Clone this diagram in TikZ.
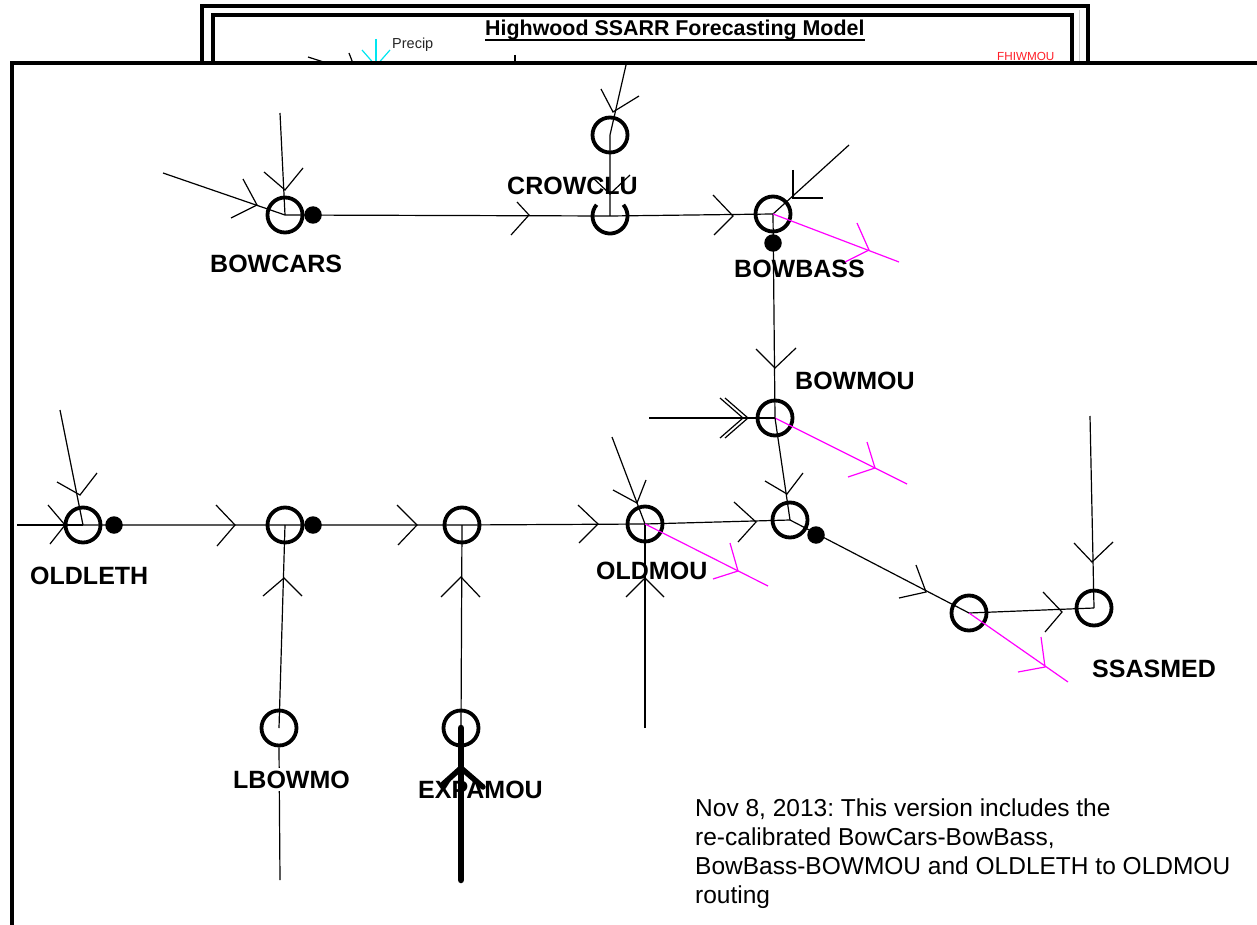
\documentclass[tikz,border=0pt]{standalone}
\usepackage{fontspec}
\setmainfont{Liberation Sans}
\frenchspacing
\definecolor{mag}{RGB}{255,0,255}
\definecolor{cyn}{RGB}{0,230,240}
\definecolor{redt}{RGB}{255,30,40}
\newcommand{\varrow}[4][arm]{\draw[#1] #3 -- #2 -- #4;}
\begin{document}
\begin{tikzpicture}[x=1pt,y=-1pt,
  nd/.style={circle,draw,line width=3.8pt,minimum size=35pt,inner sep=0pt},
  blob/.style={circle,fill=black,minimum size=17.5pt,inner sep=0pt},
  lbl/.style={anchor=base west,inner sep=0pt,font=\bfseries\fontsize{25}{30}\selectfont},
  note/.style={anchor=base west,inner sep=0pt,font=\fontsize{24.5}{29}\selectfont},
  ln/.style={line width=1.2pt},
  arm/.style={line width=1.2pt},
  marm/.style={line width=1.2pt,mag},
  mln/.style={line width=1.2pt,mag},
  frame/.style={line width=3.8pt}]
\useasboundingbox (0,0) rectangle (1257,925);
\fill[white] (0,0) rectangle (1257,925);
% ---- back window ----
\draw[frame] (202,70) -- (202,6) -- (1088,6) -- (1088,70);
\draw[frame] (213,70) -- (213,15) -- (1072,15) -- (1072,70);
\draw[gray!40,line width=0.8pt] (1079,10) -- (1079,70);
\node[anchor=base west,inner sep=0pt,font=\bfseries\fontsize{21.4}{25}\selectfont] (title) at (485,36) {Highwood SSARR Forecasting Model};
\draw[line width=1.6pt] (title.south west) ++(0,-1) coordinate (ul1) (title.south east) ++(0,-1) coordinate (ul2);
\draw[line width=1.6pt] (ul1) -- (ul2);
\node[anchor=base west,inner sep=0pt,font=\fontsize{14.5}{17}\selectfont,text=black!85] (precip) at (392,49) {Precip};
\node[anchor=base west,inner sep=0pt,font=\fontsize{11.7}{14}\selectfont,text=redt] (fhiw) at (997,61) {FHIWMOU};
\draw[cyn,line width=1.2pt] (376,39) -- (376,66);
\draw[cyn,line width=1.2pt] (362,50) -- (376,66) -- (390,50);
\draw[ln] (308,57) -- (336,66);
\draw[ln] (349,53) -- (354,66);
\draw[ln] (515,55) -- (515,66);
% ---- front window ----
\fill[white] (12,63) rectangle (1262,930);
\draw[line width=4pt] (12,930) -- (12,63) -- (1262,63);
% ---- labels (under the lines) ----
\node[lbl] (lbowcars) at (210,272) {BOWCARS};
\node[lbl] (lcrowclu) at (507,195) {CROWCLU};
\node[lbl] (lbowbass) at (734,277) {BOWBASS};
\node[lbl] (lbowmou) at (795,389) {BOWMOU};
\node[lbl] (loldleth) at (30,584) {OLDLETH};
\node[lbl] (loldmou) at (596,579) {OLDMOU};
\node[lbl] (lssasmed) at (1092,677) {SSASMED};
\node[lbl] (lexpamou) at (418,798) {EXPAMOU};
% ---- nodes ----
\node[nd] (bowcars) at (285,215) {};
\node[blob] (d1) at (313,215) {};
\node[nd] (crowU) at (610,135) {};
\coordinate (crowL) at (610,216);
\draw[line width=3.8pt] (crowL) ++(-40:17.5) arc[start angle=-40,end angle=220,radius=17.5];
\node[nd] (bowbass) at (773,214) {};
\node[blob] (d2) at (773,243) {};
\node[nd] (bowmou) at (775,418) {};
\node[nd] (junc) at (790,520) {};
\node[blob] (d3) at (816,535) {};
\node[nd] (ssa1) at (969,613) {};
\node[nd] (ssasmed) at (1094,608) {};
\node[nd] (oldleth) at (83,525) {};
\node[blob] (d4) at (114,525) {};
\node[nd] (n2) at (285,525) {};
\node[blob] (d5) at (313,525) {};
\node[nd] (n3) at (462,525) {};
\node[nd] (oldmou) at (645,524) {};
\node[nd] (lbowmo) at (279,728) {};
\node[nd] (expamou) at (461,728) {};
% ---- free ends ----
\coordinate (bcT) at (280,113);
\coordinate (bcL) at (163,173);
\coordinate (crT) at (626,65);
\coordinate (bbNE) at (849,145);
\coordinate (bbM) at (899,262);
\coordinate (bmL) at (649,418);
\coordinate (bmM) at (907,484);
\coordinate (olL) at (17,525);
\coordinate (olT) at (60,410);
\coordinate (omT) at (612,437);
\coordinate (omB) at (645,728);
\coordinate (omM) at (768,586);
\coordinate (ssT) at (1090,416);
\coordinate (s1M) at (1068,682);
\coordinate (lbB) at (280,880);
\coordinate (exB) at (461,880);
% ---- connectors ----
\draw[ln] (bcT) -- (bowcars.center);
\draw[ln] (bcL) -- (bowcars.center);
\draw[ln] (bowcars.center) -- (crowL) -- (bowbass.center);
\draw[ln] (crT) -- (crowU.center) -- (crowL);
\draw[ln] (bbNE) -- (bowbass.center);
\draw[ln] (bowbass.center) -- (bowmou.center);
\draw[mln] (bowbass.center) -- (bbM);
\draw[ln] (bmL) -- (bowmou.center);
\draw[mln] (bowmou.center) -- (bmM);
\draw[ln] (bowmou.center) -- (junc.center);
\draw[ln] (olL) -- (oldleth.center);
\draw[ln] (olT) -- (oldleth.center);
\draw[ln] (oldleth.center) -- (n2.center) -- (n3.center) -- (oldmou.center) -- (junc.center);
\draw[ln] (lbowmo.center) -- (n2.center);
\draw[ln] (expamou.center) -- (n3.center);
\draw[ln] (omB) -- (oldmou.center);
\draw[ln] (omT) -- (oldmou.center);
\draw[mln] (oldmou.center) -- (omM);
\draw[ln] (junc.center) -- (ssa1.center) -- (ssasmed.center);
\draw[ln] (ssT) -- (ssasmed.center);
\draw[mln] (ssa1.center) -- (s1M);
\draw[ln] (lbowmo.south) -- (lbB);
% ---- arrow marks ----
\varrow{(285,190)}{(264,172)}{(303,168)}
\varrow{(257,205)}{(243,179)}{(231,218)}
\varrow{(529,215)}{(517,202)}{(511,235)}
\varrow{(613,112)}{(601,89)}{(639,96)}
\varrow{(610,194)}{(593,178)}{(630,175)}
\varrow{(733,216)}{(713,195)}{(714,235)}
\varrow{(793,198)}{(793,170)}{(823,198)}
\varrow[marm]{(869,250)}{(857,223)}{(845,262)}
\varrow{(775,368)}{(756,349)}{(796,348)}
\varrow{(748,418)}{(725,398)}{(725,438)}
\varrow{(743,418)}{(720,398)}{(720,438)}
\varrow[marm]{(875,468)}{(867,442)}{(848,477)}
\varrow{(787,494)}{(765,481)}{(803,473)}
\varrow{(65,525)}{(48,505)}{(50,544)}
\varrow{(80,495)}{(57,482)}{(97,473)}
\varrow{(235,525)}{(216,505)}{(217,546)}
\varrow{(417,525)}{(397,505)}{(398,545)}
\varrow{(598,524)}{(578,505)}{(579,543)}
\varrow{(637,503)}{(613,490)}{(646,480)}
\varrow{(645,578)}{(626,597)}{(664,597)}
\varrow[marm]{(738,571)}{(730,543)}{(713,579)}
\varrow{(756,522)}{(734,502)}{(738,542)}
\varrow{(926,592)}{(916,565)}{(899,598)}
\varrow{(1062,612)}{(1043,592)}{(1045,632)}
\varrow{(1092,562)}{(1074,543)}{(1113,542)}
\varrow[marm]{(1045,667)}{(1041,637)}{(1018,672)}
\varrow{(284,578)}{(263,596)}{(302,596)}
\varrow{(461,577)}{(441,597)}{(480,597)}
% ---- label hiding its line ----
\node[lbl,fill=white,inner sep=3pt] (llbowmo) at (230,788) {LBOWMO};
% ---- thick inflow ----
\draw[line width=6.5pt,line cap=round] (exB) -- (expamou.center);
\draw[line width=5.5pt,line cap=round,line join=round] (442,785) -- (461,768) -- (483,787);
% ---- note ----
\node[note] (n1) at (695,816) {Nov 8, 2013: This version includes the};
\node[note] (n2t) at (695,845) {re-calibrated BowCars-BowBass,};
\node[note] (n3t) at (695,874) {BowBass-BOWMOU and OLDLETH to OLDMOU};
\node[note] (n4t) at (695,903) {routing};
\end{tikzpicture}
\end{document}
